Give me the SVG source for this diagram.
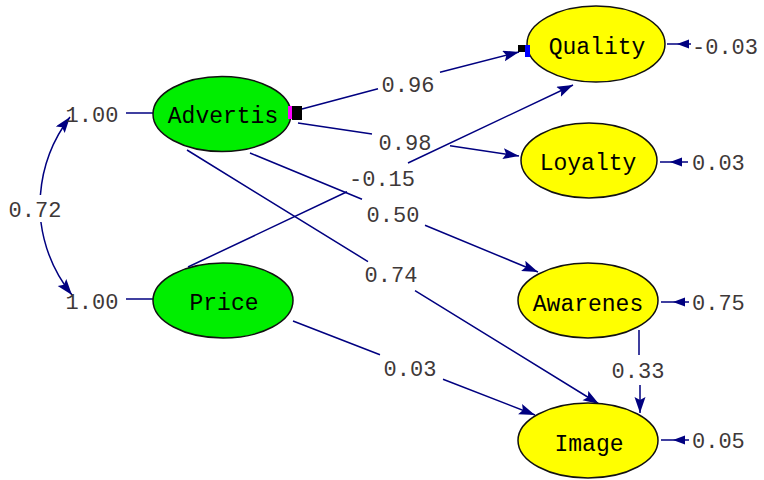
<svg xmlns="http://www.w3.org/2000/svg" width="764" height="480" viewBox="0 0 764 480">
<style>
.bg{fill:#ffffff}
.lat{stroke:#111111;stroke-width:1.5}
.exo{fill:#00ee00}
.endo{fill:#ffff00}
.nl{font-family:"Liberation Mono","DejaVu Sans Mono",monospace;font-size:23px;fill:#000000;text-anchor:middle}
.num{font-family:"Liberation Mono","DejaVu Sans Mono",monospace;font-size:22px;fill:#3e3838;text-anchor:middle}
.numl{font-family:"Liberation Mono","DejaVu Sans Mono",monospace;font-size:22px;fill:#3e3838;text-anchor:start}
.c{fill:none;stroke:#000080;stroke-width:1.5}
.arr{marker-end:url(#ah)}
.err{marker-mid:url(#eh)}
</style>
<defs>
<marker id="ah" markerUnits="userSpaceOnUse" markerWidth="18" markerHeight="12" refX="16" refY="5.5" orient="auto-start-reverse">
<path d="M0,0 L16,5.5 L0,11 L3,5.5 z" fill="#000080"/>
</marker>
<marker id="eh" markerUnits="userSpaceOnUse" markerWidth="14" markerHeight="10" refX="12" refY="4.5" orient="auto">
<path d="M0,0 L12,4.5 L0,9 z" fill="#000080"/>
</marker>
</defs>
<rect class="bg" x="0" y="0" width="764" height="480"/>

<g id="connectors">
<path class="c arr" d="M302,109 L378,88.8 M440,72.3 L519,52"/>
<path class="c arr" d="M298,123 L372,134 M450,145.7 L519,156"/>
<path class="c arr" d="M188,267 L347,191.8 M408,163 L573,85"/>
<path class="c arr" d="M250,153 L362,199.3 M425,225.3 L538,272"/>
<path class="c arr" d="M187,150 L368,261.6 M415,290.6 L599,404"/>
<path class="c arr" d="M293,321 L380,354.8 M443,379.3 L535,415"/>
<path class="c arr" d="M639,330 L639,355 M640,385 L640,413"/>
<path class="c" d="M70,117 A147,147 0 0 0 40.4,195 M40.9,222 A147,147 0 0 0 72,295" marker-start="url(#ah)" marker-end="url(#ah)"/>
<path class="c" d="M126,113 L153,113"/>
<path class="c" d="M126,299 L153,299"/>
<path class="c err" d="M691,44 L677,44 L667,44"/>
<path class="c err" d="M688,162 L670,162 L660,162"/>
<path class="c err" d="M689,302 L673,302 L661,302"/>
<path class="c err" d="M689,440 L673,440 L661,440"/>
<text class="num" x="408" y="92">0.96</text>
<text class="num" x="405" y="150">0.98</text>
<text class="num" x="382" y="186">-0.15</text>
<text class="num" x="393" y="222">0.50</text>
<text class="num" x="391" y="282">0.74</text>
<text class="num" x="410" y="376">0.03</text>
<text class="num" x="638" y="378">0.33</text>
<text class="num" x="35" y="217">0.72</text>
</g>

<g id="advertis">
<ellipse class="lat exo" cx="222" cy="114" rx="69" ry="37.5"/>
<text class="nl" x="223" y="123">Advertis</text>
<text class="num" x="92" y="122">1.00</text>
<rect x="288" y="106" width="4" height="13" fill="#ff00ff"/>
<rect x="292" y="106" width="10" height="14" fill="#000000"/>
</g>

<g id="price">
<ellipse class="lat exo" cx="223" cy="300.5" rx="70" ry="37.5"/>
<text class="nl" x="224" y="310">Price</text>
<text class="num" x="92" y="309">1.00</text>
</g>

<g id="quality">
<ellipse class="lat endo" cx="596" cy="44" rx="69" ry="38"/>
<text class="nl" x="597" y="54">Quality</text>
<text class="numl" x="692" y="54">-0.03</text>
<rect x="525" y="45" width="5" height="12" fill="#0000ff"/>
<rect x="518" y="45" width="7" height="7" fill="#000000"/>
</g>

<g id="loyalty">
<ellipse class="lat endo" cx="589" cy="160.5" rx="68" ry="37.5"/>
<text class="nl" x="588" y="170">Loyalty</text>
<text class="numl" x="692" y="170">0.03</text>
</g>

<g id="awarenes">
<ellipse class="lat endo" cx="588" cy="300.5" rx="70" ry="37.5"/>
<text class="nl" x="588" y="311">Awarenes</text>
<text class="numl" x="692" y="310">0.75</text>
</g>

<g id="image">
<ellipse class="lat endo" cx="588" cy="440.5" rx="70" ry="37.5"/>
<text class="nl" x="589" y="451">Image</text>
<text class="numl" x="692" y="448">0.05</text>
</g>
</svg>
